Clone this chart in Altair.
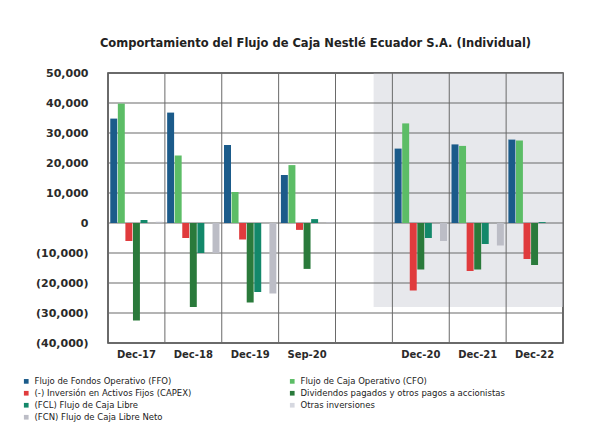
import altair as alt
import pandas as pd

# ---- data ----
categories = ["Dec-17", "Dec-18", "Dec-19", "Sep-20", " ", "Dec-20", "Dec-21", "Dec-22"]
periods = ["Dec-17", "Dec-18", "Dec-19", "Sep-20", "Dec-20", "Dec-21", "Dec-22"]
series = [
    "Flujo de Fondos Operativo (FFO)",
    "Flujo de Caja Operativo (CFO)",
    "(-) Inversión en Activos Fijos (CAPEX)",
    "Dividendos pagados y otros pagos a accionistas",
    "(FCL) Flujo de Caja Libre",
    "Otras inversiones",
    "(FCN) Flujo de Caja Libre Neto",
]
colors = ["#1b5b8a", "#5cbd66", "#e03b3d", "#2a7a3b", "#13886a", "#d6d8e0", "#bcbdc6"]

ffo = [34800, 36800, 26000, 16000, 24800, 26200, 27800]
cfo = [39800, 22500, 10300, 19300, 33200, 25700, 27500]
capex = [-6000, -5000, -5500, -2300, -22500, -16000, -12000]
div = [-32500, -28000, -26500, -15300, -15500, -15500, -14000]
fcl = [1000, -10000, -23000, 1300, -5000, -7000, 300]
otras = [0, 0, 0, 0, 0, 0, 0]
fcn = [400, -10000, -23500, 300, -6000, -7500, 0]

y_ticks = [-40000, -30000, -20000, -10000, 0, 10000, 20000, 30000, 40000, 50000]

# shaded region (band units on x, value units on y)
shade_x0 = [4.67]
shade_x1 = [8.0]
shade_y0 = [-28000]
shade_y1 = [50000]

rows = []
for s, vals in zip(series, [ffo, cfo, capex, div, fcl, otras, fcn]):
    for p, v in zip(periods, vals):
        rows.append({"periodo": p, "serie": s, "valor": v})
df = pd.DataFrame(rows)
shade = pd.DataFrame({"x0": shade_x0, "x1": shade_x1, "y0": shade_y0, "y1": shade_y1})
vgrid = pd.DataFrame({"periodo": categories})
hgrid = pd.DataFrame({"v": y_ticks, "x0": [0.0] * len(y_ticks), "x1": [8.0] * len(y_ticks)})

FONT = "DejaVu Sans"
GRID = "#6a6a6a"
y_scale = alt.Scale(domain=[-40000, 50000], nice=False, zero=False)
x_scale = alt.Scale(domain=categories, paddingInner=0, paddingOuter=0)
xq_scale = alt.Scale(domain=[0, 8], nice=False, zero=False)
label_expr = "datum.value < 0 ? '(' + format(-datum.value, ',') + ')' : format(datum.value, ',')"
y_axis = alt.Axis(
    title=None, values=y_ticks, labelExpr=label_expr, grid=False,
    labelPadding=20, labelFontSize=11,
)

shade_layer = alt.Chart(shade).mark_rect(color="#d4d6dc", opacity=0.55).encode(
    x=alt.X("x0:Q", scale=xq_scale, axis=None),
    x2="x1:Q",
    y=alt.Y("y0:Q", scale=y_scale, axis=y_axis),
    y2="y1:Q",
)

# horizontal gridlines drawn as very thin filled rectangles around each tick value
hgrid_layer = alt.Chart(hgrid).transform_calculate(
    lo="datum.v - 180", hi="datum.v + 180"
).mark_rect(color=GRID).encode(
    x=alt.X("x0:Q", scale=xq_scale, axis=None),
    x2="x1:Q",
    y=alt.Y("lo:Q", scale=y_scale, axis=y_axis),
    y2="hi:Q",
)

# vertical gridlines at band boundaries
vgrid_layer = alt.Chart(vgrid).mark_rule(color=GRID, strokeWidth=1).encode(
    x=alt.X("periodo:N", sort=categories, scale=x_scale, bandPosition=0, axis=None),
)

bars = alt.Chart(df).mark_bar().encode(
    x=alt.X(
        "periodo:N", sort=categories, scale=x_scale,
        axis=alt.Axis(title=None, labelAngle=0, grid=False, labelPadding=6, labelFontSize=10),
    ),
    xOffset=alt.XOffset("serie:N", sort=series,
                        scale=alt.Scale(domain=series, paddingInner=0.08, paddingOuter=0.3)),
    y=alt.Y("valor:Q", scale=y_scale, axis=y_axis),
    color=alt.Color(
        "serie:N", sort=series, scale=alt.Scale(domain=series, range=colors),
        legend=alt.Legend(
            title=None, orient="none", legendX=-86, legendY=304, columns=2,
            direction="horizontal", columnPadding=96, rowPadding=3,
            symbolType="square", symbolSize=22, symbolStrokeWidth=0,
            labelFont=FONT, labelFontSize=8.5, labelColor="#222222", labelLimit=400,
        ),
    ),
)

chart = alt.layer(shade_layer, hgrid_layer, vgrid_layer, bars).resolve_scale(
    x="independent"
).properties(
    width=455, height=270,
    title=alt.TitleParams(
        "Comportamiento del Flujo de Caja Nestlé Ecuador S.A. (Individual)",
        font=FONT, fontSize=11.5, fontWeight="bold", color="#222222",
        anchor="middle", dx=-20, offset=18,
    ),
    autosize=alt.AutoSizeParams(type="none"),
    padding={"left": 100, "top": 65, "right": 23, "bottom": 91},
).configure(
    background="white",
).configure_axis(
    ticks=False, domain=False, labelFont=FONT, labelFontWeight="bold",
    labelColor="#2a2a2a",
).configure_view(
    stroke="#3a3a3a", strokeWidth=1.5,
)

chart.save("out.html", embed_options={"renderer": "svg", "actions": False})
